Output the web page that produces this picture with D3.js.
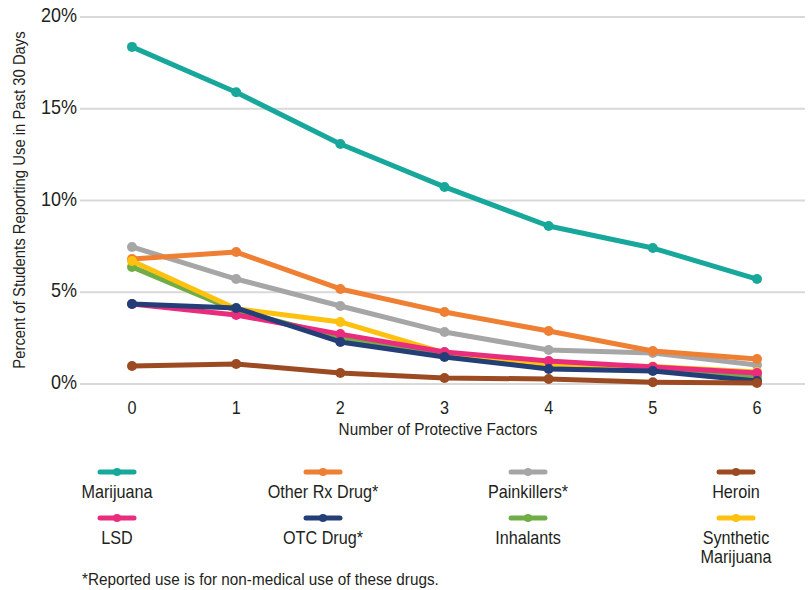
<html>
<meta charset="utf-8" />
<head>
<title>Protective factors chart</title>
<script src="https://cdn.jsdelivr.net/npm/d3@7"></script>
<style>
	body { margin:0; background:#fff; }
	text { font-family: "Liberation Sans", Arial, sans-serif; fill:#231f20; }
</style>
<script>
// data
let factors = [0, 1, 2, 3, 4, 5, 6];
let yTicks = [0, 5, 10, 15, 20];

let marijuana   = [18.37, 15.9, 13.08, 10.74, 8.61, 7.41, 5.72];
let otherRx     = [6.81, 7.19, 5.18, 3.92, 2.89, 1.80, 1.36];
let painkillers = [7.47, 5.72, 4.25, 2.83, 1.85, 1.69, 1.04];
let heroin      = [0.98, 1.09, 0.60, 0.33, 0.27, 0.10, 0.05];
let lsd         = [4.36, 3.76, 2.72, 1.74, 1.25, 0.93, 0.60];
let otc         = [4.36, 4.14, 2.29, 1.47, 0.82, 0.71, 0.16];
let inhalants   = [6.38, 4.00, 2.55, 1.60, 1.00, 0.85, 0.40];
let synthetic   = [6.70, 4.10, 3.38, 1.70, 1.10, 0.95, 0.65];

let seriesNames = ['Marijuana', 'Other Rx Drug*', 'Painkillers*', 'Heroin', 'LSD', 'OTC Drug*', 'Inhalants', 'Synthetic Marijuana'];
let seriesValues = [marijuana, otherRx, painkillers, heroin, lsd, otc, inhalants, synthetic];
let seriesColors = ['#17a79b', '#ee7f33', '#a6a6a6', '#9c4a22', '#e92c7b', '#243f77', '#71ad46', '#fec10d'];
// drawing order (bottom to top)
let drawOrder = [2, 1, 6, 7, 4, 5, 3, 0];

// narrow look: squeeze text horizontally
let squeeze = 0.9;
function at(x, y) { return 'translate(' + x + ',' + y + ') scale(' + squeeze + ',1)'; }

window.onload = function() {
	let svg = d3.select('svg');

	let x = d3.scaleLinear().domain([0, 6]).range([132, 757]);
	let y = d3.scaleLinear().domain([0, 20]).range([384, 17]);

	// gridlines
	svg.append('g')
	.selectAll('line')
	.data(yTicks)
	.enter()
	.append('line')
	.attr('x1', 80).attr('x2', 805)
	.attr('y1', (d) => y(d)).attr('y2', (d) => y(d))
	.style('stroke', '#d9d9d9')
	.style('stroke-width', '2px');

	// y tick labels
	svg.append('g')
	.selectAll('text')
	.data(yTicks)
	.enter()
	.append('text')
	.attr('transform', (d) => at(77, y(d) + 5))
	.attr('text-anchor', 'end')
	.style('font-size', '20px')
	.text((d) => d + '%');

	// x tick labels
	svg.append('g')
	.selectAll('text')
	.data(factors)
	.enter()
	.append('text')
	.attr('transform', (d) => at(x(d), 414))
	.attr('text-anchor', 'middle')
	.style('font-size', '18px')
	.text((d) => d);

	svg.append('text')
	.attr('transform', at(438, 435))
	.attr('text-anchor', 'middle')
	.style('font-size', '17px')
	.text('Number of Protective Factors');

	svg.append('text')
	.attr('transform', 'translate(25,200) rotate(-90) scale(' + squeeze + ',1)')
	.attr('text-anchor', 'middle')
	.style('font-size', '16.5px')
	.text('Percent of Students Reporting Use in Past 30 Days');

	let line = d3.line()
	.x((d, i) => x(factors[i]))
	.y((d) => y(d));

	let groups = svg.append('g')
	.selectAll('g')
	.data(drawOrder)
	.enter()
	.append('g');

	groups.append('path')
	.attr('d', (k) => line(seriesValues[k]))
	.style('fill', 'none')
	.style('stroke', (k) => seriesColors[k])
	.style('stroke-width', '5px')
	.style('stroke-linejoin', 'round');

	groups.selectAll('circle')
	.data((k) => seriesValues[k].map((v, i) => ({ v: v, i: i, k: k })))
	.enter()
	.append('circle')
	.attr('cx', (d) => x(factors[d.i]))
	.attr('cy', (d) => y(d.v))
	.attr('r', 5)
	.style('fill', (d) => seriesColors[d.k]);

	// legend: 4 columns, 2 rows
	let legX = [117, 323, 528, 736];
	let legY = [472, 518];
	let leg = svg.append('g')
	.selectAll('g')
	.data(seriesNames)
	.enter()
	.append('g')
	.attr('transform', (d, i) => 'translate(' + legX[i % 4] + ',' + legY[Math.floor(i / 4)] + ')');

	leg.append('line')
	.attr('x1', -17).attr('x2', 17)
	.style('stroke', (d, i) => seriesColors[i])
	.style('stroke-width', '5px')
	.style('stroke-linecap', 'round');

	leg.append('circle')
	.attr('r', 4)
	.style('fill', (d, i) => seriesColors[i]);

	leg.each(function(d) {
		let words = d === 'Synthetic Marijuana' ? ['Synthetic', 'Marijuana'] : [d];
		let t = d3.select(this).append('text')
		.attr('text-anchor', 'middle')
		.attr('transform', at(0, 26))
		.style('font-size', '18px');
		words.forEach((w, j) => {
			t.append('tspan').attr('x', 0).attr('dy', j === 0 ? 0 : 19).text(w);
		});
	});

	svg.append('text')
	.attr('transform', at(82, 585))
	.style('font-size', '17px')
	.text('*Reported use is for non-medical use of these drugs.');
}
</script>
</head>
<body>
<svg style="width:812px; height:590px; display:block" />
</body>
</html>
